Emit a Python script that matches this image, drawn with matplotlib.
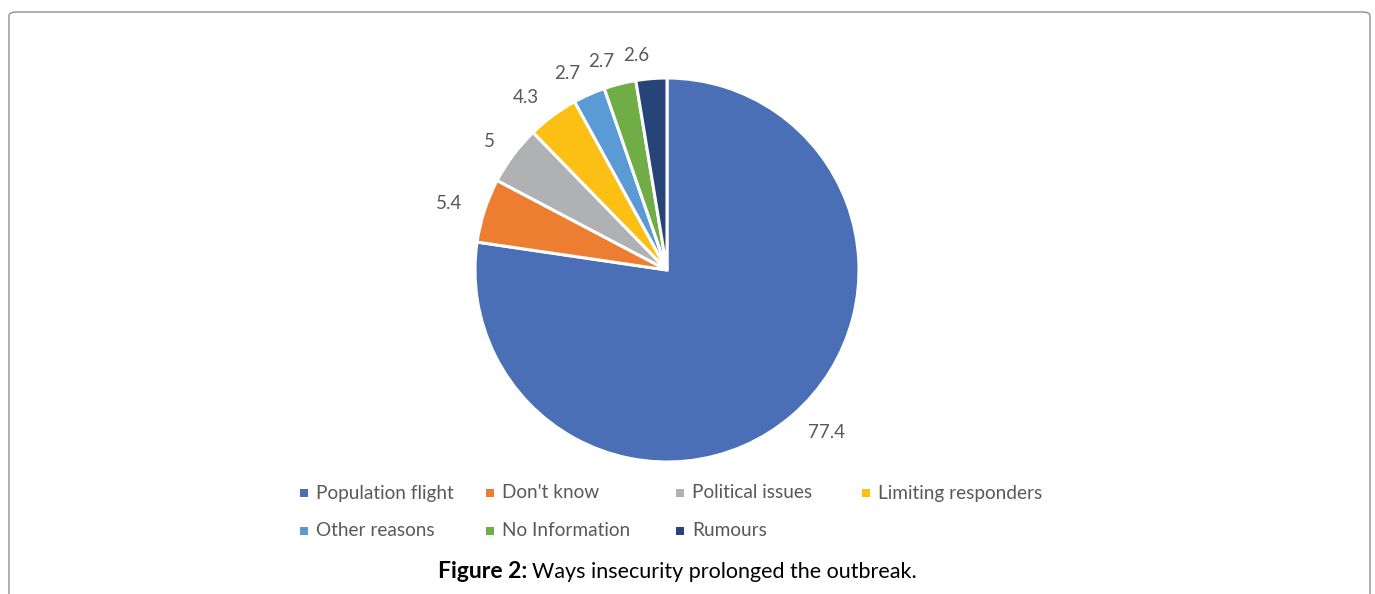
import matplotlib
matplotlib.use("Agg")
import matplotlib.pyplot as plt
from matplotlib.patches import FancyBboxPatch, Rectangle

########### Daten ##############
kategorien = ['Population flight', "Don't know", 'Political issues', 'Limiting responders',
              'Other reasons', 'No Information', 'Rumours']
werte = [77.4, 5.4, 5, 4.3, 2.7, 2.7, 2.6]
label_txt = ['77.4', '5.4', '5', '4.3', '2.7', '2.7', '2.6']
farben = ['#4A6FB6', '#ED7D31', '#B0B1B3', '#FBC013', '#5B9BD5', '#70AD47', '#264478']

plt.rcParams['font.family'] = ['Lato', 'DejaVu Sans']
W, H = 1375, 594
fig = plt.figure(figsize=(W / 100, H / 100), dpi=100)

# Rahmen
rahmen = FancyBboxPatch((9 / W, -20 / H), 1361 / W, (H - 12 + 20) / H,
                        boxstyle='round,pad=0,rounding_size=0.006',
                        transform=fig.transFigure, fill=False,
                        edgecolor='#8f8f8f', linewidth=1.0)
fig.patches.append(rahmen)

# Kreisdiagramm
cx, cy, r = 667, 270, 192
ax = fig.add_axes([(cx - r) / W, (H - cy - r) / H, 2 * r / W, 2 * r / H])
wedges, texts = ax.pie(werte, labels=label_txt, colors=farben, startangle=90,
                       counterclock=False, labeldistance=1.12,
                       wedgeprops=dict(edgecolor='white', linewidth=2.2),
                       textprops=dict(color='#595959', fontsize=13.5))
for t in texts:
    t.set_va('center')
ax.set_xlim(-1, 1)
ax.set_ylim(-1, 1)
ax.set_aspect('equal')
ax.axis('off')

# Legende (manuell, gleiche Spaltenbreite wie Excel)
spalten_x = [304, 490, 680, 866]
zeilen_y = [493, 531]
for i, (name, f) in enumerate(zip(kategorien, farben)):
    x = spalten_x[i % 4]
    y = zeilen_y[i // 4]
    fig.patches.append(Rectangle(((x - 4) / W, (H - y - 4) / H), 8 / W, 8 / H,
                                 transform=fig.transFigure, facecolor=f, edgecolor='none'))
    fig.text((x + 12) / W, (H - y) / H, name, ha='left', va='center',
             fontsize=13.7, color='#595959')

# Bildunterschrift
fig.text(527 / W, (H - 572) / H, 'Figure 2:', ha='right', va='center',
         fontsize=16.5, fontweight='bold', color='black')
fig.text(532 / W, (H - 572) / H, 'Ways insecurity prolonged the outbreak.', ha='left',
         va='center', fontsize=15.5, color='black')

plt.savefig('out.png', dpi=100)
